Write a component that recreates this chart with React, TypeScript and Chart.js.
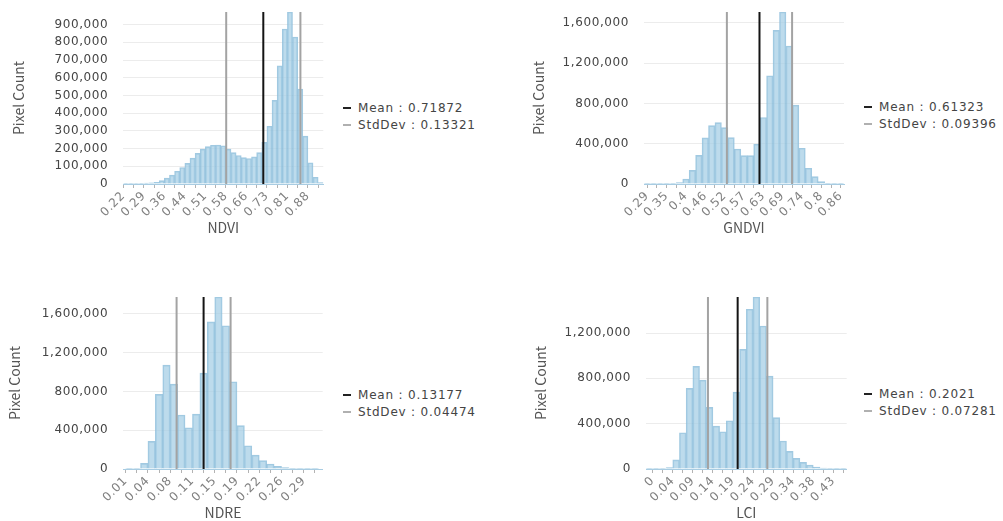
import React, { useEffect, useRef } from 'react';
import { Chart, registerables } from 'chart.js';

Chart.register(...registerables);

// ---------- NDVI ----------
const NDVI_COUNTS = [
  1000, 1500, 2500, 3500, 5000, 7000, 9500, 19000, 33000, 50000,
  72000, 93000, 116000, 146000, 173000, 197000, 211000, 219000, 220000, 216000,
  197000, 177000, 161000, 149000, 144000, 153000, 177000, 235000, 326000, 472000,
  667000, 875000, 971000, 830000, 536000, 270000, 120000, 38000, 8000,
];
const NDVI_BIN_START = 0.21612;
const NDVI_BIN_WIDTH = 0.01841;
const NDVI_TICK_LABELS = ['0.22', '0.29', '0.36', '0.44', '0.51', '0.58', '0.66', '0.73', '0.81', '0.88'];
const NDVI_MEAN = 0.71872;
const NDVI_STDDEV = 0.13321;

// ---------- GNDVI ----------
const GNDVI_COUNTS = [
  1000, 1500, 2000, 3000, 6000, 15000, 50000, 136000, 285000, 458000,
  580000, 610000, 560000, 461000, 348000, 282000, 282000, 395000, 660000, 1075000,
  1525000, 1708000, 1370000, 783000, 355000, 156000, 73000, 23000, 6000, 2000,
  1000,
];
const GNDVI_BIN_START = 0.28047;
const GNDVI_BIN_WIDTH = 0.01859;
const GNDVI_TICK_LABELS = ['0.29', '0.35', '0.4', '0.46', '0.52', '0.57', '0.63', '0.69', '0.74', '0.8', '0.86'];
const GNDVI_MEAN = 0.61323;
const GNDVI_STDDEV = 0.09396;

// ---------- NDRE ----------
const NDRE_COUNTS = [
  2000, 6000, 58000, 285000, 770000, 1072000, 876000, 557000, 426000, 567000,
  990000, 1519000, 1775000, 1478000, 900000, 447000, 240000, 144000, 86000, 52000,
  27000, 14000, 7000, 3000, 2000, 1000,
];
const NDRE_BIN_START = 0.00267;
const NDRE_BIN_WIDTH = 0.012295;
const NDRE_TICK_LABELS = ['0.01', '0.04', '0.08', '0.11', '0.15', '0.19', '0.22', '0.26', '0.29'];
const NDRE_MEAN = 0.13177;
const NDRE_STDDEV = 0.04474;

// ---------- LCI ----------
const LCI_COUNTS = [
  2000, 2000, 5000, 12000, 80000, 320000, 712000, 906000, 785000, 544000,
  379000, 329000, 426000, 679000, 1056000, 1410000, 1518000, 1262000, 820000, 453000,
  247000, 156000, 94000, 59000, 35000, 18000, 9000, 4000, 2000, 1000,
];
const LCI_BIN_START = -0.0226;
const LCI_BIN_WIDTH = 0.0164;
const LCI_TICK_LABELS = ['0', '0.04', '0.09', '0.14', '0.19', '0.24', '0.29', '0.34', '0.38', '0.43'];
const LCI_MEAN = 0.2021;
const LCI_STDDEV = 0.07281;

const TICK_FONT = '"DejaVu Sans", sans-serif';
const TITLE_FONT = '"Noto Sans CJK KR", "Noto Sans", sans-serif';
const CANVAS_HEIGHT = 236;

type Frame = {
  left: number;
  top: number;
  plotLeft: number;
  plotRight: number;
  yTitleX: number;
  padBinsLeft: number;
  padBinsRight: number;
};

type PanelSpec = {
  title: string;
  counts: number[];
  binStart: number;
  binWidth: number;
  tickLabels: string[];
  tickFirstBin: number;
  tickEveryBins: number;
  mean: number;
  stdDev: number;
  yStep: number;
  frame: Frame;
  legend: { left: number; top: number };
};

const PANELS: PanelSpec[] = [
  {
    title: 'NDVI', counts: NDVI_COUNTS, binStart: NDVI_BIN_START, binWidth: NDVI_BIN_WIDTH,
    tickLabels: NDVI_TICK_LABELS, tickFirstBin: 0, tickEveryBins: 4,
    mean: NDVI_MEAN, stdDev: NDVI_STDDEV, yStep: 100000,
    frame: { left: 0, top: 0, plotLeft: 123.3, plotRight: 323.3, yTitleX: 18.3, padBinsLeft: 0, padBinsRight: 0 },
    legend: { left: 343, top: 99 },
  },
  {
    title: 'GNDVI', counts: GNDVI_COUNTS, binStart: GNDVI_BIN_START, binWidth: GNDVI_BIN_WIDTH,
    tickLabels: GNDVI_TICK_LABELS, tickFirstBin: 0.5, tickEveryBins: 3,
    mean: GNDVI_MEAN, stdDev: GNDVI_STDDEV, yStep: 400000,
    frame: { left: 520, top: 0, plotLeft: 644, plotRight: 844, yTitleX: 538.3, padBinsLeft: 0, padBinsRight: 0 },
    legend: { left: 864, top: 98.5 },
  },
  {
    title: 'NDRE', counts: NDRE_COUNTS, binStart: NDRE_BIN_START, binWidth: NDRE_BIN_WIDTH,
    tickLabels: NDRE_TICK_LABELS, tickFirstBin: 0, tickEveryBins: 3,
    mean: NDRE_MEAN, stdDev: NDRE_STDDEV, yStep: 400000,
    frame: { left: 0, top: 285, plotLeft: 123.3, plotRight: 322.7, yTitleX: 15, padBinsLeft: 0.32, padBinsRight: 0.55 },
    legend: { left: 343, top: 386 },
  },
  {
    title: 'LCI', counts: LCI_COUNTS, binStart: LCI_BIN_START, binWidth: LCI_BIN_WIDTH,
    tickLabels: LCI_TICK_LABELS, tickFirstBin: 1, tickEveryBins: 3,
    mean: LCI_MEAN, stdDev: LCI_STDDEV, yStep: 400000,
    frame: { left: 520, top: 285, plotLeft: 646, plotRight: 846.7, yTitleX: 540.7, padBinsLeft: 0, padBinsRight: 0 },
    legend: { left: 864, top: 385.5 },
  },
];

// Tick labels are drawn after the datasets (ticks.z = 1) so they can get a
// little extra letter spacing without touching the axis titles.
const tickSpacingPlugin = {
  id: 'tickSpacing',
  beforeDraw(chart: any) {
    chart.ctx.letterSpacing = '0px';
  },
  afterDatasetsDraw(chart: any) {
    chart.ctx.letterSpacing = '0.6px';
  },
};

function HistogramPanel({ spec }: { spec: PanelSpec }) {
  const canvasRef = useRef<HTMLCanvasElement | null>(null);
  const f = spec.frame;
  const width = Math.ceil(f.plotRight + 3 - f.left);

  useEffect(() => {
    const canvas = canvasRef.current;
    if (!canvas) return;
    const nBins = spec.counts.length;
    const yMax = Math.max(...spec.counts);
    const bars = spec.counts.map((c, i) => ({ x: spec.binStart + (i + 0.5) * spec.binWidth, y: c }));
    const vline = (v: number) => [{ x: v, y: 0 }, { x: v, y: yMax }];

    // labelled ticks every few bins, with an unlabelled tick half way between them
    const tickDefs: { value: number; label: string }[] = [];
    spec.tickLabels.forEach((label, k) => {
      const b = spec.tickFirstBin + k * spec.tickEveryBins;
      tickDefs.push({ value: spec.binStart + b * spec.binWidth, label });
      const mid = b + spec.tickEveryBins / 2;
      if (mid <= nBins) tickDefs.push({ value: spec.binStart + mid * spec.binWidth, label: '' });
    });

    // count gridlines at fixed steps below the tallest bin
    const yTicks: { value: number }[] = [];
    for (let v = 0; v < yMax; v += spec.yStep) yTicks.push({ value: v });

    const yAxisWidth = f.plotLeft - f.left;
    const padRight = width - (f.plotRight - f.left);

    const chart = new Chart(canvas, {
      type: 'bar',
      data: {
        datasets: [
          {
            type: 'bar',
            data: bars,
            backgroundColor: 'rgba(164, 205, 228, 0.72)',
            borderColor: 'rgba(138, 188, 218, 0.8)',
            borderWidth: 1,
            barPercentage: 1,
            categoryPercentage: 1,
            order: 3,
          } as any,
          {
            type: 'line',
            data: vline(spec.mean - spec.stdDev),
            borderColor: '#a3a3a3',
            borderWidth: 2,
            pointRadius: 0,
            fill: false,
            order: 1,
          } as any,
          {
            type: 'line',
            data: vline(spec.mean + spec.stdDev),
            borderColor: '#a3a3a3',
            borderWidth: 2,
            pointRadius: 0,
            fill: false,
            order: 1,
          } as any,
          {
            type: 'line',
            data: vline(spec.mean),
            borderColor: '#141414',
            borderWidth: 2,
            pointRadius: 0,
            fill: false,
            order: 0,
          } as any,
        ],
      },
      options: {
        animation: false,
        responsive: false,
        maintainAspectRatio: false,
        events: [],
        layout: { padding: { top: 12, right: padRight, left: 0, bottom: 0 } },
        plugins: { legend: { display: false }, tooltip: { enabled: false } },
        scales: {
          x: {
            type: 'linear',
            min: spec.binStart - f.padBinsLeft * spec.binWidth,
            max: spec.binStart + (nBins + f.padBinsRight) * spec.binWidth,
            offset: false,
            grid: { display: true, drawOnChartArea: false, drawTicks: true, tickLength: 4, color: '#b3b3b3', offset: false },
            border: { display: true, color: '#a8cce2', width: 1 },
            afterBuildTicks: (scale: any) => {
              scale.ticks = tickDefs.map((t) => ({ value: t.value }));
            },
            afterFit: (scale: any) => {
              scale.height = CANVAS_HEIGHT - 12 - 172;
              scale.paddingLeft = 0;
              scale.paddingRight = 0;
            },
            ticks: {
              z: 1,
              autoSkip: false,
              maxRotation: 45,
              minRotation: 45,
              padding: 1,
              color: '#808080',
              font: { family: TICK_FONT, size: 12 },
              callback: (_v: any, i: number) => (tickDefs[i] ? tickDefs[i].label : ''),
            },
            title: {
              display: true,
              text: spec.title,
              color: '#555555',
              font: { family: TITLE_FONT, size: 14 },
              padding: { top: 0, bottom: 0 },
            },
          } as any,
          y: {
            type: 'linear',
            min: 0,
            max: yMax,
            grid: { color: '#ececec', drawTicks: false },
            border: { display: false },
            afterBuildTicks: (scale: any) => {
              scale.ticks = yTicks.map((t) => ({ value: t.value }));
            },
            afterFit: (scale: any) => {
              scale.width = yAxisWidth;
              scale.paddingTop = 0;
              scale.paddingBottom = 0;
            },
            ticks: {
              z: 1,
              autoSkip: false,
              padding: 15,
              color: '#454545',
              font: { family: TICK_FONT, size: 12 },
              callback: (v: any) => Number(v).toLocaleString('en-US'),
            },
            title: {
              display: true,
              text: 'Pixel Count',
              color: '#555555',
              font: { family: TITLE_FONT, size: 14 },
              padding: { top: f.yTitleX - f.left - 8.4, bottom: 0 },
            },
          } as any,
        },
      },
      plugins: [tickSpacingPlugin],
    });
    return () => chart.destroy();
  }, [spec]);

  return (
    <canvas
      ref={canvasRef}
      width={width}
      height={CANVAS_HEIGHT}
      style={{ position: 'absolute', left: f.left, top: f.top, width, height: CANVAS_HEIGHT }}
    />
  );
}

function StatsLegend({ spec }: { spec: PanelSpec }) {
  const row: React.CSSProperties = { display: 'flex', alignItems: 'center', height: 17, whiteSpace: 'nowrap' };
  const mark = (color: string): React.CSSProperties => ({
    display: 'inline-block', width: 8, height: 2, background: color, marginRight: 7,
  });
  return (
    <div
      style={{
        position: 'absolute', left: spec.legend.left, top: spec.legend.top,
        fontFamily: TICK_FONT, fontSize: 12, letterSpacing: '0.8px', color: '#444444',
      }}
    >
      <div style={row}>
        <span style={mark('#222222')} />
        <span>{`Mean : ${spec.mean}`}</span>
      </div>
      <div style={row}>
        <span style={mark('#b0b0b0')} />
        <span>{`StdDev : ${spec.stdDev}`}</span>
      </div>
    </div>
  );
}

export default function App() {
  return (
    <div
      style={{
        position: 'absolute', left: 0, top: 0, width: 1003, height: 521,
        background: '#ffffff', overflow: 'hidden',
      }}
    >
      {PANELS.map((p) => (
        <React.Fragment key={p.title}>
          <HistogramPanel spec={p} />
          <StatsLegend spec={p} />
        </React.Fragment>
      ))}
    </div>
  );
}
